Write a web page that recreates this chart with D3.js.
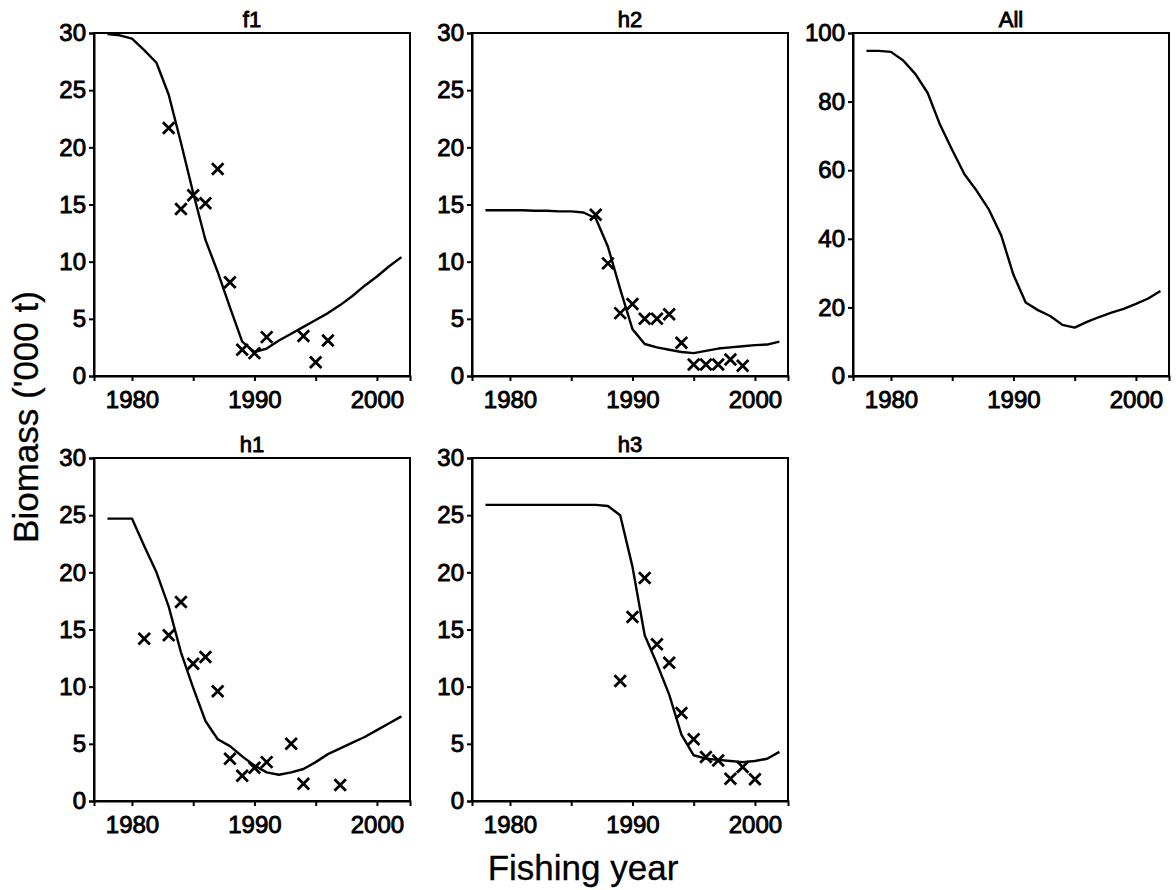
<!DOCTYPE html>
<html>
<head>
<meta charset="utf-8">
<script src="https://cdn.jsdelivr.net/npm/d3@7"></script>
<style>
  body { margin: 0; background: #fff; }
  svg { display: block; font-family: "Liberation Sans", Arial, Helvetica, sans-serif; }
  .tick text { font-size: 24px; fill: #000; stroke: #000; stroke-width: 0.9px; }
  .tick line, .domain { stroke: #000; stroke-width: 2px; }
  .panel-title { font-size: 22px; stroke: #000; stroke-width: 0.9px; }
  .axis-title { font-size: 35px; stroke: #000; stroke-width: 0.3px; }
</style>
</head>
<body>
<svg id="chart"></svg>
<script>
(function () {
  // 模型年份
  const fitYears = [1978, 1979, 1980, 1981, 1982, 1983, 1984, 1985, 1986, 1987, 1988, 1989, 1990,
    1991, 1992, 1993, 1994, 1995, 1996, 1997, 1998, 1999, 2000, 2001, 2002];

  // 各区域的模型生物量 ('000 t)
  const f1Fit = [29.9, 29.8, 29.5, 28.5, 27.4, 24.6, 20.4, 16.0, 11.9, 9.1, 6.0, 3.0, 2.1,
    2.4, 3.1, 3.7, 4.3, 4.9, 5.5, 6.2, 7.0, 7.9, 8.7, 9.6, 10.4];
  const h2Fit = [14.5, 14.5, 14.5, 14.5, 14.45, 14.45, 14.4, 14.4, 14.3, 13.8, 11.3, 7.6, 4.1,
    2.8, 2.5, 2.3, 2.1, 2.0, 2.2, 2.4, 2.5, 2.6, 2.7, 2.75, 3.0];
  const allFit = [94.8, 94.8, 94.5, 92.0, 88.0, 82.5, 73.3, 65.9, 58.8, 54.0, 48.5, 41.0, 29.5,
    21.4, 19.2, 17.5, 14.9, 14.1, 15.8, 17.2, 18.5, 19.6, 21.0, 22.6, 24.8];
  const h1Fit = [24.7, 24.7, 24.7, 22.3, 20.0, 17.0, 13.0, 9.9, 7.0, 5.4, 4.8, 3.9, 3.1,
    2.5, 2.3, 2.5, 2.8, 3.4, 4.1, 4.6, 5.1, 5.6, 6.2, 6.8, 7.4];
  const h3Fit = [25.9, 25.9, 25.9, 25.9, 25.9, 25.9, 25.9, 25.9, 25.9, 25.9, 25.8, 25.0, 20.5,
    14.5, 12.0, 9.3, 5.8, 4.0, 3.7, 3.6, 3.5, 3.4, 3.5, 3.7, 4.3];

  // 观测值 (x)
  const f1ObsYears = [1983, 1984, 1985, 1986, 1987, 1988, 1989, 1990, 1991, 1994, 1995, 1996];
  const f1Obs = [21.7, 14.6, 15.8, 15.1, 18.1, 8.2, 2.3, 2.0, 3.4, 3.5, 1.2, 3.1];
  const h2ObsYears = [1987, 1988, 1989, 1990, 1991, 1992, 1993, 1994, 1995, 1996, 1997, 1998, 1999];
  const h2Obs = [14.1, 9.85, 5.5, 6.3, 5.0, 5.0, 5.4, 2.9, 1.0, 1.0, 1.0, 1.45, 0.9];
  const h1ObsYears = [1981, 1983, 1984, 1985, 1986, 1987, 1988, 1989, 1990, 1991, 1993, 1994, 1997];
  const h1Obs = [14.2, 14.5, 17.4, 12.0, 12.6, 9.6, 3.7, 2.2, 2.9, 3.4, 5.0, 1.5, 1.4];
  const h3ObsYears = [1989, 1990, 1991, 1992, 1993, 1994, 1995, 1996, 1997, 1998, 1999, 2000];
  const h3Obs = [10.5, 16.1, 19.5, 13.7, 12.1, 7.7, 5.4, 3.85, 3.55, 1.95, 2.97, 1.9];

  // 坐标轴刻度
  const xTickValues = [1980, 1985, 1990, 1995, 2000];
  const xTickLabels = [1980, 1990, 2000];
  const smallYTicks = [0, 5, 10, 15, 20, 25, 30];
  const allYTicks = [0, 20, 40, 60, 80, 100];

  // 面板配置
  const panels = [
    { title: "f1", fit: f1Fit, obsYears: f1ObsYears, obs: f1Obs, col: 0, row: 0, yTicks: smallYTicks },
    { title: "h2", fit: h2Fit, obsYears: h2ObsYears, obs: h2Obs, col: 1, row: 0, yTicks: smallYTicks },
    { title: "All", fit: allFit, obsYears: [], obs: [], col: 2, row: 0, yTicks: allYTicks },
    { title: "h1", fit: h1Fit, obsYears: h1ObsYears, obs: h1Obs, col: 0, row: 1, yTicks: smallYTicks },
    { title: "h3", fit: h3Fit, obsYears: h3ObsYears, obs: h3Obs, col: 1, row: 1, yTicks: smallYTicks },
  ];

  const width = 1176;
  const height = 890;
  const colLeft = [94, 472, 853];
  const rowTop = [33, 458];
  const pw = 316;
  const ph = 343;

  const svg = d3.select("#chart").attr("width", width).attr("height", height);
  svg.append("rect").attr("width", width).attr("height", height).attr("fill", "#fff");

  const x = d3.scaleLinear().domain([1976.9, 2002.7]).range([0, pw]);

  panels.forEach((p) => {
    const g = svg
      .append("g")
      .attr("transform", `translate(${colLeft[p.col]},${rowTop[p.row]})`);

    const y = d3.scaleLinear().domain([0, d3.max(p.yTicks)]).range([ph, 0]);

    // 外框
    g.append("rect")
      .attr("width", pw)
      .attr("height", ph)
      .attr("fill", "none")
      .attr("stroke", "#000")
      .attr("stroke-width", 2);

    // X轴
    g.append("g")
      .attr("transform", `translate(0,${ph})`)
      .call(
        d3.axisBottom(x)
          .tickValues(xTickValues)
          .tickSizeOuter(0)
          .tickSize(5)
          .tickPadding(10)
          .tickFormat((d) => (xTickLabels.includes(d) ? d : ""))
      );

    // Y轴
    g.append("g")
      .call(d3.axisLeft(y).tickValues(p.yTicks).tickSizeOuter(0).tickSize(5).tickPadding(3));

    // 标题
    g.append("text")
      .attr("class", "panel-title")
      .attr("x", pw / 2)
      .attr("y", -6)
      .attr("text-anchor", "middle")
      .text(p.title);

    // 模型线
    const line = d3
      .line()
      .x((d, i) => x(fitYears[i]))
      .y((d) => y(d));

    g.append("path")
      .datum(p.fit)
      .attr("d", line)
      .attr("fill", "none")
      .attr("stroke", "#000")
      .attr("stroke-width", 2.4)
      .attr("stroke-linejoin", "round");

    // 观测点
    g.selectAll(".obs")
      .data(p.obs)
      .enter()
      .append("path")
      .attr("class", "obs")
      .attr("transform", (d, i) => `translate(${x(p.obsYears[i])},${y(d)})`)
      .attr("d", d3.symbol().type(d3.symbolX).size(88))
      .attr("fill", "none")
      .attr("stroke", "#000")
      .attr("stroke-width", 2.8);
  });

  // 轴标题
  svg.append("text")
    .attr("class", "axis-title")
    .attr("text-anchor", "middle")
    .attr("transform", "translate(38,417) rotate(-90)")
    .text("Biomass ('000 t)");

  svg.append("text")
    .attr("class", "axis-title")
    .attr("text-anchor", "middle")
    .attr("x", 583)
    .attr("y", 880)
    .text("Fishing year");
})();
</script>
</body>
</html>
